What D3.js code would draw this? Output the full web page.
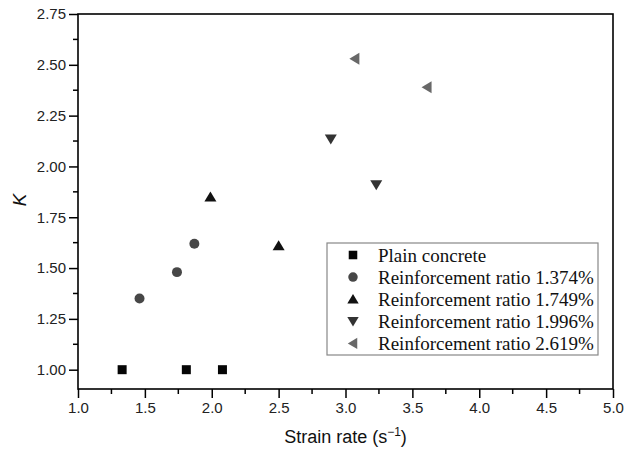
<!DOCTYPE html>
<html>
<head>
<meta charset="utf-8">
<script src="https://cdn.jsdelivr.net/npm/d3@7"></script>
<style>
  body { margin: 0; background: #fff; }
</style>
</head>
<body>
<div id="chart"></div>
<script>
// series values (strain rate, K)
var plainConcrete = [[1.33, 1.00], [1.81, 1.00], [2.08, 1.00]];
var ratio1374 = [[1.46, 1.35], [1.74, 1.48], [1.87, 1.62]];
var ratio1749 = [[1.99, 1.85], [2.50, 1.61]];
var ratio1996 = [[2.89, 2.135], [3.23, 1.91]];
var ratio2619 = [[3.07, 2.53], [3.61, 2.39]];

var seriesNames = ["Plain concrete", "Reinforcement ratio 1.374%", "Reinforcement ratio 1.749%",
                   "Reinforcement ratio 1.996%", "Reinforcement ratio 2.619%"];
var xTicks = [1.0, 1.5, 2.0, 2.5, 3.0, 3.5, 4.0, 4.5, 5.0];
var yTicks = [1.00, 1.25, 1.50, 1.75, 2.00, 2.25, 2.50, 2.75];

var series = [
  {name: seriesNames[0], data: plainConcrete, shape: "square", color: "#050505"},
  {name: seriesNames[1], data: ratio1374, shape: "circle", color: "#474747"},
  {name: seriesNames[2], data: ratio1749, shape: "up", color: "#111111"},
  {name: seriesNames[3], data: ratio1996, shape: "down", color: "#333333"},
  {name: seriesNames[4], data: ratio2619, shape: "left", color: "#686868"}
];

var sans = "'Liberation Sans', Arial, sans-serif";
var serif = "'Liberation Serif', 'Times New Roman', serif";

// set the dimensions and margins of the graph
var margin = {top: 14, right: 14, bottom: 60, left: 78},
    width = 627 - margin.left - margin.right,
    height = 449 - margin.top - margin.bottom;

var x = d3.scaleLinear().domain([1, 5]).range([0, width]);
var y = d3.scaleLinear().domain([0.905, 2.75]).range([height, 0]);

var svg = d3.select("#chart").append("svg")
    .attr("width", 627)
    .attr("height", 449);

var plot = svg.append("g")
    .attr("transform", "translate(" + margin.left + "," + margin.top + ")");

// marker path by shape
function marker(shape) {
  if (shape == "square") return "M-4.5,-4.5H4.5V4.5H-4.5Z";
  if (shape == "circle") return d3.symbol().type(d3.symbolCircle).size(78)();
  if (shape == "up") return "M0,-5.5L6,4.5H-6Z";
  if (shape == "down") return "M0,5.5L6,-4.5H-6Z";
  if (shape == "left") return "M-5.5,0L4.5,-6V6Z";
}

// minor ticks
var xMinor = d3.range(1.25, 5, 0.5);
var yMinor = d3.range(1.125, 2.75, 0.25);

plot.selectAll(".xminor").data(xMinor).enter().append("line")
    .attr("x1", d => x(d)).attr("x2", d => x(d))
    .attr("y1", height).attr("y2", height + 5)
    .attr("stroke", "#000").attr("stroke-width", 1.5);

plot.selectAll(".yminor").data(yMinor).enter().append("line")
    .attr("y1", d => y(d)).attr("y2", d => y(d))
    .attr("x1", 0).attr("x2", -5)
    .attr("stroke", "#000").attr("stroke-width", 1.5);

// axes
var xAxis = plot.append("g")
    .attr("transform", "translate(0," + height + ")")
    .call(d3.axisBottom(x).tickValues(xTicks).tickFormat(d3.format(".1f")).tickSizeInner(9).tickSizeOuter(0).tickPadding(4));

var yAxis = plot.append("g")
    .call(d3.axisLeft(y).tickValues(yTicks).tickFormat(d3.format(".2f")).tickSizeInner(9).tickSizeOuter(0).tickPadding(3));

[xAxis, yAxis].forEach(function(a) {
  a.select(".domain").remove();
  a.selectAll("line").attr("stroke-width", 1.5);
  a.selectAll("text").attr("font-size", 15).attr("fill", "#222")
    .attr("font-family", sans);
});

// frame
plot.append("rect")
    .attr("width", width).attr("height", height)
    .attr("fill", "none").attr("stroke", "#000").attr("stroke-width", 1.6);

// points
series.forEach(function(s) {
  plot.selectAll(null).data(s.data).enter().append("path")
      .attr("d", marker(s.shape))
      .attr("transform", d => "translate(" + x(d[0]) + "," + y(d[1]) + ")")
      .attr("fill", s.color);
});

// legend
var legend = plot.append("g").attr("transform", "translate(249,229)");
legend.append("rect")
    .attr("width", 271).attr("height", 112)
    .attr("fill", "#fff").attr("stroke", "#888").attr("stroke-width", 1.2);

series.forEach(function(s, i) {
  var row = legend.append("g").attr("transform", "translate(0," + (12 + i * 22.1) + ")");
  row.append("path")
      .attr("d", marker(s.shape))
      .attr("transform", "translate(26,0) scale(0.95)")
      .attr("fill", s.color);
  row.append("text")
      .attr("x", 51).attr("y", 0).attr("dy", "0.35em")
      .attr("font-family", serif)
      .attr("font-size", 19).attr("fill", "#111")
      .text(s.name);
});

// axis titles
var xTitle = svg.append("text")
    .attr("x", margin.left + width / 2).attr("y", 443)
    .attr("text-anchor", "middle").attr("font-family", sans)
    .attr("font-size", 18).attr("fill", "#111");
xTitle.append("tspan").text("Strain rate (s");
xTitle.append("tspan").attr("dy", -7).attr("font-size", 12).text("\u22121");
xTitle.append("tspan").attr("dy", 7).text(")");

svg.append("text")
    .attr("transform", "translate(26,200) rotate(-90)")
    .attr("text-anchor", "middle").attr("font-family", sans).attr("font-size", 19)
    .attr("font-style", "italic").attr("fill", "#111")
    .text("K");
</script>
</body>
</html>
